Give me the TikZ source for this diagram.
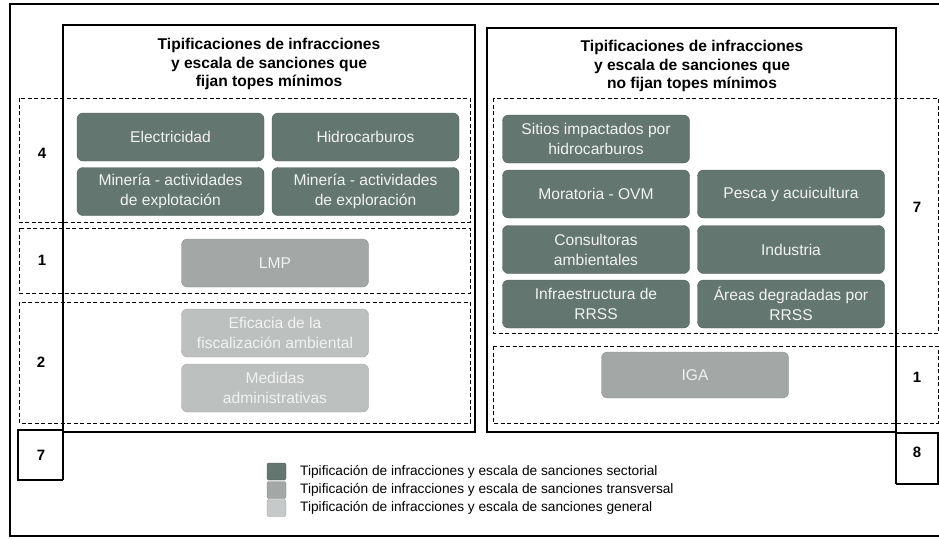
\documentclass[tikz,border=0pt]{standalone}
\usepackage{fontspec}
\setmainfont{Liberation Sans}
\definecolor{sectorial}{HTML}{647670}
\definecolor{transv}{HTML}{A3A8A6}
\definecolor{general}{HTML}{BCC0BF}
\definecolor{boxtext}{HTML}{F2F2F2}
\begin{document}
\begin{tikzpicture}[x=1pt,y=-1pt,
  tbox/.style={rounded corners=6pt, minimum height=48pt, minimum width=187pt, align=center,
     text=boxtext, font=\fontsize{15.6}{20}\selectfont, inner sep=2pt},
  sect/.style={tbox, fill=sectorial, draw=sectorial!80!black, line width=0.4pt},
  trans/.style={tbox, fill=transv, draw=transv!85!black, line width=0.4pt},
  gen/.style={tbox, fill=general, draw=general!85!black, line width=0.4pt},
  dashbox/.style={draw, line width=0.9pt, dash pattern=on 4pt off 2.5pt},
  panel/.style={draw, line width=1.1pt},
  numlbl/.style={font=\fontsize{15}{18}\selectfont\bfseries},
  ttl/.style={align=center, font=\fontsize{15.6}{18.5}\selectfont\bfseries},
  legsq/.style={rounded corners=2pt, minimum width=19pt, minimum height=17pt, inner sep=0pt},
  legtxt/.style={anchor=west, font=\fontsize{13.7}{16}\selectfont, inner sep=0pt}
]
\useasboundingbox (0,0) rectangle (939,538);
% outer frame
\draw[line width=1.5pt] (939,4) -- (10,4) -- (10,536) -- (939,536);

% left panel
\draw[panel] (63,480) -- (63,25) -- (475,25) -- (475,432) -- (63,432);
\draw[panel] (63,430) -- (18,430) -- (18,480) -- (63,480);
% right panel
\draw[panel] (896,484) -- (896,28) -- (487,28) -- (487,432) -- (896,432);
\draw[panel] (896,433) -- (938,433) -- (938,484) -- (896,484);

% dashed groups
\draw[dashbox] (19,98) rectangle (470,222);
\draw[dashbox] (19,228) rectangle (470,293);
\draw[dashbox] (19,302) rectangle (470,423);
\draw[dashbox] (493,98) rectangle (938,333);
\draw[dashbox] (493,346) rectangle (938,423);

% titles
\node[ttl] (tl) at (269,64) {Tipificaciones de infracciones\\y escala de sanciones que\\fijan topes mínimos};
\node[ttl] (tr) at (692,66) {Tipificaciones de infracciones\\y escala de sanciones que\\no fijan topes mínimos};

% left boxes
\node[sect] (elec) at (170.5,137) {Electricidad};
\node[sect] (hidro) at (365.5,137) {Hidrocarburos};
\node[sect] (minexpt) at (170.5,191.5) {Minería - actividades\\de explotación};
\node[sect] (minexpr) at (365.5,191.5) {Minería - actividades\\de exploración};
\node[trans] (lmp) at (275,263) {LMP};
\node[gen] (efic) at (275,333) {Eficacia de la\\fiscalización ambiental};
\node[gen] (medi) at (275,388) {Medidas\\administrativas};

% right boxes
\node[sect] (sitios) at (596,139) {Sitios impactados por\\hidrocarburos};
\node[sect] (mora) at (596,194) {Moratoria - OVM};
\node[sect] (pesca) at (791,194) {Pesca y acuicultura};
\node[sect] (consu) at (596,249.5) {Consultoras\\ambientales};
\node[sect] (indus) at (791,249.5) {Industria};
\node[sect] (infra) at (596,304) {Infraestructura de\\RRSS};
\node[sect] (areas) at (791,304) {Áreas degradadas por\\RRSS};
\node[trans, minimum height=46pt] (iga) at (695,375) {IGA};

% numbers
\node[numlbl] (n4) at (42,153) {4};
\node[numlbl] (n1l) at (42,260) {1};
\node[numlbl] (n2) at (41,362) {2};
\node[numlbl] (n7l) at (41,455) {7};
\node[numlbl] (n7r) at (917,207) {7};
\node[numlbl] (n1r) at (917,377) {1};
\node[numlbl] (n8) at (917,452) {8};

% legend
\node[legsq, fill=sectorial, draw=sectorial!80!black] (ls1) at (276.5,471.5) {};
\node[legsq, fill=transv, draw=transv!85!black] (ls2) at (276.5,490) {};
\node[legsq, fill=general!85!white, draw=general!85!black] (ls3) at (276.5,508) {};
\node[legtxt] (lt1) at (300,472) {Tipificación de infracciones y escala de sanciones sectorial};
\node[legtxt] (lt2) at (300,490) {Tipificación de infracciones y escala de sanciones transversal};
\node[legtxt] (lt3) at (300,508) {Tipificación de infracciones y escala de sanciones general};
\end{tikzpicture}
\end{document}
